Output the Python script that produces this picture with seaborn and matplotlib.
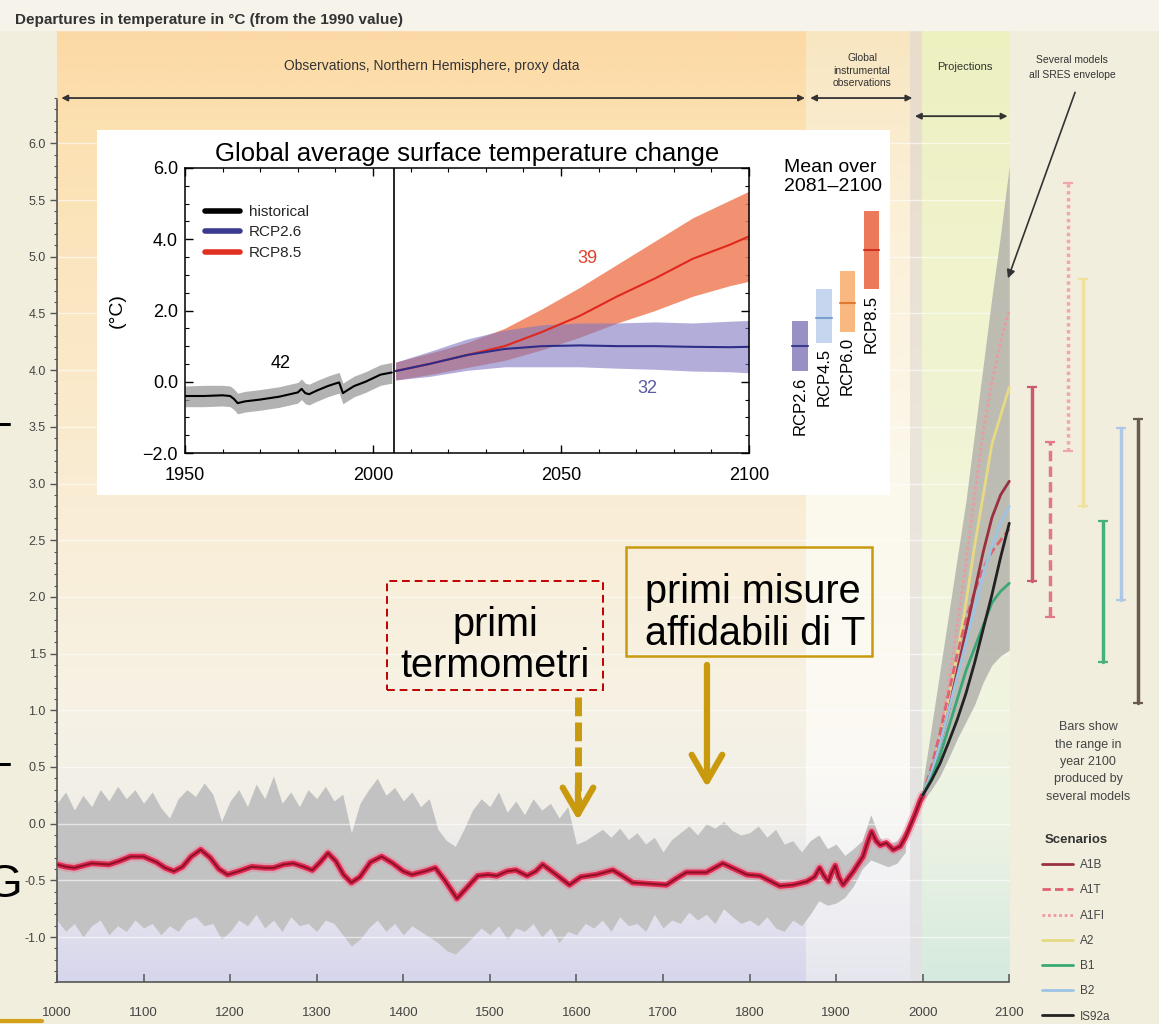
import numpy as np
import pandas as pd
import matplotlib
matplotlib.use("Agg")
import matplotlib.pyplot as plt
import seaborn as sns
from matplotlib.lines import Line2D
from matplotlib.patches import Rectangle
from matplotlib.colors import to_rgb
from matplotlib.ticker import MultipleLocator

# ---------------- DATA ----------------
# Proxy reconstruction (Northern Hemisphere), envelope of proxy data, every 10 years 1000-1980
proxy_years = list(range(1000, 1981, 10))
proxy_hi = [0.18, 0.28, 0.12, 0.25, 0.15, 0.30, 0.20, 0.33, 0.22, 0.30,
            0.18, 0.28, 0.14, 0.05, 0.22, 0.30, 0.24, 0.36, 0.26, 0.02,
            0.20, 0.30, 0.15, 0.35, 0.22, 0.42, 0.18, 0.28, 0.15, 0.30,
            0.22, 0.33, 0.20, 0.26, -0.08, 0.18, 0.30, 0.40, 0.25, 0.32,
            0.20, 0.28, 0.15, 0.22, -0.05, -0.15, -0.20, -0.05, 0.12, 0.22,
            0.15, 0.28, 0.10, 0.20, 0.08, 0.22, 0.12, 0.18, 0.05, 0.15,
            -0.18, -0.15, -0.10, -0.05, -0.12, -0.04, -0.14, -0.08, -0.18, -0.12,
            -0.25, -0.14, -0.08, -0.02, -0.10, 0.00, -0.04, 0.02, -0.06, -0.10,
            -0.08, -0.02, -0.12, -0.05, -0.18, -0.15, -0.25, -0.15, -0.10, -0.22,
            -0.18, -0.28, -0.22, -0.15, 0.08, -0.12, -0.18, -0.15, -0.05]
proxy_lo = [-0.85, -0.95, -0.88, -1.00, -0.90, -0.85, -0.98, -0.90, -0.95, -0.85,
            -0.92, -0.88, -0.98, -0.90, -0.95, -0.85, -0.82, -0.90, -0.88, -1.02,
            -0.95, -0.85, -0.90, -0.80, -0.92, -0.85, -0.95, -0.82, -0.90, -0.88,
            -0.95, -0.85, -0.88, -0.98, -1.08, -1.02, -0.92, -0.85, -0.95, -0.88,
            -0.98, -0.90, -0.95, -1.00, -1.05, -1.12, -1.15, -1.08, -1.00, -0.92,
            -0.98, -0.90, -1.02, -0.92, -0.95, -0.88, -1.00, -0.92, -1.05, -0.95,
            -0.98, -0.88, -0.92, -0.85, -0.95, -0.82, -0.90, -0.88, -0.95, -0.80,
            -0.92, -0.85, -0.88, -0.78, -0.85, -0.80, -0.88, -0.75, -0.82, -0.88,
            -0.85, -0.90, -0.82, -0.92, -0.95, -0.85, -0.90, -0.80, -0.68, -0.72,
            -0.70, -0.65, -0.55, -0.40, -0.32, -0.35, -0.38, -0.35, -0.25]

# Smoothed reconstruction + instrumental record (red curve)
recon_years = [1000, 1010, 1020, 1030, 1040, 1050, 1060, 1072, 1085, 1100, 1115, 1125, 1135, 1145,
               1155, 1166, 1177, 1187, 1197, 1210, 1225, 1240, 1250, 1262, 1273, 1285, 1295, 1304,
               1313, 1322, 1331, 1340, 1350, 1362, 1375, 1388, 1400, 1410, 1425, 1437, 1448, 1462,
               1474, 1486, 1498, 1508, 1520, 1530, 1543, 1553, 1561, 1575, 1592, 1605, 1623, 1642,
               1653, 1665, 1685, 1704, 1716, 1727, 1750, 1769, 1783, 1797, 1812, 1825, 1835, 1850,
               1866, 1875, 1881, 1886, 1891, 1895, 1899, 1903, 1908, 1920, 1931, 1937, 1941, 1946,
               1951, 1958, 1966, 1974, 1980, 1985, 1991, 1997, 2000]
recon_vals = [-0.36, -0.38, -0.39, -0.37, -0.35, -0.355, -0.36, -0.33, -0.29, -0.29, -0.34, -0.39, -0.42, -0.38,
              -0.29, -0.23, -0.30, -0.40, -0.45, -0.42, -0.38, -0.39, -0.39, -0.36, -0.35, -0.38, -0.41, -0.34,
              -0.26, -0.33, -0.45, -0.52, -0.47, -0.34, -0.29, -0.35, -0.42, -0.45, -0.42, -0.39, -0.50, -0.66,
              -0.56, -0.46, -0.45, -0.46, -0.42, -0.41, -0.46, -0.42, -0.36, -0.44, -0.54, -0.47, -0.45, -0.41,
              -0.46, -0.52, -0.53, -0.54, -0.48, -0.43, -0.43, -0.35, -0.40, -0.45, -0.46, -0.51, -0.55, -0.54,
              -0.51, -0.47, -0.39, -0.46, -0.51, -0.43, -0.37, -0.47, -0.54, -0.42, -0.29, -0.15, -0.07, -0.15,
              -0.19, -0.17, -0.23, -0.20, -0.12, -0.03, 0.08, 0.20, 0.25]

# SRES projections 2000-2100
proj_years = [2000, 2010, 2020, 2030, 2040, 2050, 2060, 2070, 2080, 2090, 2100]
env_upper = [0.35, 0.85, 1.35, 1.85, 2.35, 2.85, 3.45, 4.05, 4.65, 5.20, 5.80]
env_lower = [0.20, 0.30, 0.42, 0.58, 0.75, 0.90, 1.05, 1.25, 1.40, 1.48, 1.53]
scen_names = ["A1B", "A1T", "A1FI", "A2", "B1", "B2", "IS92a"]
scen_A1B = [0.25, 0.45, 0.70, 1.00, 1.35, 1.70, 2.05, 2.40, 2.70, 2.90, 3.02]
scen_A1T = [0.25, 0.50, 0.80, 1.15, 1.50, 1.80, 2.05, 2.25, 2.40, 2.50, 2.60]
scen_A1FI = [0.25, 0.45, 0.80, 1.25, 1.75, 2.30, 2.90, 3.45, 3.90, 4.25, 4.53]
scen_A2 = [0.25, 0.45, 0.75, 1.10, 1.50, 1.95, 2.45, 2.90, 3.35, 3.60, 3.85]
scen_B1 = [0.25, 0.40, 0.60, 0.85, 1.10, 1.35, 1.55, 1.75, 1.95, 2.05, 2.12]
scen_B2 = [0.25, 0.45, 0.70, 1.00, 1.30, 1.60, 1.90, 2.20, 2.45, 2.65, 2.80]
scen_IS92a = [0.25, 0.38, 0.53, 0.72, 0.92, 1.15, 1.42, 1.72, 2.02, 2.35, 2.65]
# Range in year 2100 produced by several models (bars)
bar_lo = [2.14, 1.82, 3.29, 2.80, 1.43, 1.97, 1.06]
bar_hi = [3.85, 3.37, 5.65, 4.80, 2.67, 3.49, 3.57]
bar_x = [2126.7, 2147.5, 2167.9, 2185.2, 2208.3, 2228.7, 2248.7]

# Inset: global average surface temperature change
hist_years = [1950, 1955, 1960, 1962, 1963, 1964, 1966, 1970, 1975, 1980, 1981, 1982, 1983,
              1985, 1988, 1990, 1991, 1992, 1993, 1995, 1998, 2000, 2002, 2005]
hist_mean = [-0.40, -0.40, -0.38, -0.40, -0.48, -0.60, -0.55, -0.50, -0.42, -0.30, -0.20, -0.32, -0.35,
             -0.25, -0.12, -0.05, -0.02, -0.32, -0.25, -0.12, 0.00, 0.10, 0.20, 0.26]
hist_hi = [-0.12, -0.10, -0.10, -0.12, -0.20, -0.32, -0.27, -0.22, -0.14, -0.02, 0.08, -0.04, -0.07,
           0.03, 0.16, 0.23, 0.26, -0.04, 0.03, 0.16, 0.28, 0.38, 0.48, 0.54]
hist_lo = [-0.70, -0.70, -0.68, -0.70, -0.78, -0.90, -0.85, -0.80, -0.72, -0.60, -0.50, -0.62, -0.65,
           -0.55, -0.42, -0.35, -0.32, -0.62, -0.55, -0.42, -0.30, -0.20, -0.10, -0.04]
rcp_years = [2006, 2015, 2025, 2035, 2045, 2055, 2065, 2075, 2085, 2095, 2100]
rcp85_mean = [0.30, 0.50, 0.75, 1.00, 1.40, 1.85, 2.40, 2.90, 3.45, 3.85, 4.08]
rcp85_hi = [0.55, 0.80, 1.10, 1.50, 2.05, 2.65, 3.30, 3.95, 4.60, 5.10, 5.35]
rcp85_lo = [0.05, 0.20, 0.40, 0.60, 0.90, 1.25, 1.65, 2.00, 2.40, 2.70, 2.82]
rcp26_mean = [0.30, 0.50, 0.75, 0.92, 1.00, 1.02, 1.00, 1.00, 0.98, 0.97, 0.98]
rcp26_hi = [0.55, 0.85, 1.20, 1.45, 1.60, 1.65, 1.65, 1.68, 1.65, 1.70, 1.72]
rcp26_lo = [0.05, 0.15, 0.32, 0.42, 0.42, 0.42, 0.38, 0.35, 0.30, 0.28, 0.25]
rcp_box_names = ["RCP2.6", "RCP4.5", "RCP6.0", "RCP8.5"]
rcp_box_lo = [0.3, 1.1, 1.4, 2.6]
rcp_box_hi = [1.7, 2.6, 3.1, 4.8]
rcp_box_mean = [1.0, 1.8, 2.2, 3.7]
rcp_box_x = [2113.5, 2119.9, 2126.2, 2132.6]

# ---------------- STYLE ----------------
sns.set_theme(style="ticks")
plt.rcParams["font.family"] = ["Liberation Sans", "DejaVu Sans"]

W, H = 1159, 1024
fig = plt.figure(figsize=(W / 100, H / 100), dpi=100, facecolor="#f2eedd")
fig.patches.append(Rectangle((0, 1 - 30 / H), 1, 30 / H, transform=fig.transFigure,
                             color="#f6f3ea", zorder=0))

PXY = 0.8657  # px per year
ax = fig.add_axes([57 / W, 1 - 982.4 / H, (W - 57) / W, (982.4 - 30) / H])
ax.set_facecolor("none")
XMAX = 1000 + (W - 57) / PXY
YMIN, YMAX = -1.4, 7.0


def band(x0, x1, stops):
    ys = np.linspace(YMAX, YMIN, 300)
    vals = [s[0] for s in stops][::-1]
    cols = np.array([to_rgb(s[1]) for s in stops])[::-1]
    img = np.stack([np.interp(ys, vals, cols[:, k]) for k in range(3)], axis=-1)[:, None, :]
    ax.imshow(img, extent=[x0, x1, YMIN, YMAX], aspect="auto", origin="upper",
              interpolation="bilinear", zorder=0)


band(1000, 1865, [(7.0, "#fcd9a4"), (6.2, "#fce0b0"), (4.5, "#fbe7c4"), (2.5, "#f9eed8"),
                  (1.0, "#f6f2e4"), (0.0, "#f0eee8"), (-0.8, "#e4e2ee"), (-1.4, "#d6d6ec")])
band(1865, 1985, [(7.0, "#f8e6c0"), (5.5, "#fbefd6"), (3.0, "#fcf8ec"), (0.5, "#fbfaf4"),
                  (-0.5, "#f2f2f4"), (-1.4, "#e6e6ef")])
band(1985, 1999, [(7.0, "#e8dccb"), (3.0, "#ebe6dc"), (-1.4, "#e2e2e6")])
band(1999, 2100, [(7.0, "#edf0bf"), (5.0, "#f0f3cc"), (2.0, "#f2f5dc"), (0.0, "#edf3e4"),
                  (-1.4, "#d5eade")])

ax.set_xlim(1000, XMAX)
ax.set_ylim(YMIN, YMAX)

# proxy envelope
ax.fill_between(proxy_years, proxy_lo, proxy_hi, color="#c2c2c2", lw=0, zorder=2)

# white grid lines
for v in np.arange(-1.0, 6.01, 0.5):
    ax.plot([1000, 2100], [v, v], color="white", lw=1.0, alpha=0.6, zorder=2.5)

# SRES envelope
ax.fill_between(proj_years, env_lower, env_upper, color="#b3b3ad", alpha=0.85, lw=0, zorder=3)

# reconstruction red curve
sns.lineplot(x=recon_years, y=recon_vals, ax=ax, color="#f07090", lw=7, alpha=0.35,
             estimator=None, legend=False, zorder=4)
sns.lineplot(x=recon_years, y=recon_vals, ax=ax, color="#e02850", lw=4,
             estimator=None, legend=False, zorder=4)
sns.lineplot(x=recon_years, y=recon_vals, ax=ax, color="#8a1028", lw=1.4,
             estimator=None, legend=False, zorder=4)

# scenarios
scen_vals = [scen_A1B, scen_A1T, scen_A1FI, scen_A2, scen_B1, scen_B2, scen_IS92a]
line_cols = {"A1B": "#9a3040", "A1T": "#e06070", "A1FI": "#eb9aa2", "A2": "#e6da84",
             "B1": "#3aa874", "B2": "#9cc4e4", "IS92a": "#222222"}
dash_map = {"A1B": "", "A1T": (3, 1.5), "A1FI": (1, 1), "A2": "", "B1": "", "B2": "", "IS92a": ""}
df = pd.DataFrame({
    "year": np.tile(proj_years, len(scen_names)),
    "value": np.concatenate(scen_vals),
    "scenario": np.repeat(scen_names, len(proj_years)),
})
plot_order = ["A2", "A1FI", "A1T", "A1B", "B2", "B1", "IS92a"]
df["scenario"] = pd.Categorical(df["scenario"], categories=plot_order, ordered=True)
sns.lineplot(data=df.sort_values(["scenario", "year"]), x="year", y="value", hue="scenario",
             style="scenario", palette=line_cols, dashes=dash_map, lw=2, ax=ax,
             legend=False, zorder=5, sort=False, estimator=None, units="scenario")

# bars in 2100
bar_cols = ["#c85a72", "#e07888", "#f0a6ae", "#f0e29a", "#48b07e", "#b0c8e8", "#6a5a50"]
bar_ls = ["-", (0, (3, 1.5)), (0, (1, 1)), "-", "-", "-", "-"]
for x, lo, hi, c, ls in zip(bar_x, bar_lo, bar_hi, bar_cols, bar_ls):
    ax.plot([x, x], [lo, hi], color=c, lw=2.5, ls=ls, zorder=5, clip_on=False)
    ax.plot([x, x], [lo, hi], ls="none", marker="_", ms=7, mew=1.6, color=c, zorder=5, clip_on=False)

# axes styling
for s in ["top", "right"]:
    ax.spines[s].set_visible(False)
for s in ["left", "bottom"]:
    ax.spines[s].set_color("#555555")
    ax.spines[s].set_linewidth(1.2)
ax.spines["left"].set_bounds(-1.4, 6.38)
ax.spines["bottom"].set_bounds(1000, 2100)
ax.set_xticks(list(range(1000, 2101, 100)))
ax.set_xticklabels([str(v) for v in range(1000, 2101, 100)], fontsize=9.5, color="#444444")
yt = np.arange(-1.0, 6.01, 0.5)
ax.set_yticks(yt)
ax.set_yticklabels([f"{v:.1f}" for v in yt], fontsize=9, color="#444444")
ax.set_yticks(np.arange(-1.4, 6.41, 0.1), minor=True)
ax.tick_params(axis="x", direction="in", length=6, width=1.1, color="#555555", pad=18)
ax.tick_params(axis="y", which="major", direction="out", length=5, width=1.0, color="#555555", pad=3)
ax.tick_params(axis="y", which="minor", direction="out", length=2.5, width=0.8, color="#555555")
ax.set_xlabel("")
ax.set_ylabel("")

# header region
arr = dict(arrowstyle="<|-|>", color="#333333", lw=1.3, mutation_scale=9, shrinkA=0, shrinkB=0)
ax.annotate("", xy=(1005, 6.40), xytext=(1864, 6.40), arrowprops=arr, annotation_clip=False)
ax.annotate("", xy=(1870, 6.40), xytext=(1988, 6.40), arrowprops=arr, annotation_clip=False)
ax.annotate("", xy=(1991, 6.24), xytext=(2098, 6.24), arrowprops=arr, annotation_clip=False)
ax.text(1433, 6.68, "Observations, Northern Hemisphere, proxy data", ha="center", va="center",
        fontsize=10, color="#333333")
ax.text(1930, 6.64, "Global\ninstrumental\nobservations", ha="center", va="center",
        fontsize=7.5, color="#333333", linespacing=1.3)
ax.text(2049, 6.67, "Projections", ha="center", va="center", fontsize=8, color="#333333")
ax.text(2172.5, 6.67, "Several models\nall SRES envelope", ha="center", va="center",
        fontsize=7.5, color="#333333", linespacing=1.6)
ax.annotate("", xy=(2098.5, 4.81), xytext=(2176, 6.45),
            arrowprops=dict(arrowstyle="-|>", color="#333333", lw=1.2, mutation_scale=12,
                            shrinkA=0, shrinkB=0), annotation_clip=False)
fig.text(15 / W, 1 - 20 / H, "Departures in temperature in °C (from the 1990 value)",
         fontsize=11, fontweight="bold", color="#333333", ha="left", va="center")

# right side texts / legend
fig.text(1088 / W, 1 - 762 / H, "Bars show\nthe range in\nyear 2100\nproduced by\nseveral models",
         ha="center", va="center", fontsize=9, color="#444444", linespacing=1.6)
handles = [Line2D([0], [0], color=line_cols[n], lw=2, ls=("-" if dash_map[n] == "" else (0, dash_map[n])))
           for n in scen_names]
leg = ax.legend(handles, scen_names, loc="upper left", bbox_to_anchor=(1042 / W, 1 - 834 / H),
                bbox_transform=fig.transFigure, frameon=False, title="Scenarios", fontsize=8.5,
                title_fontsize=9.5, handlelength=2.6, labelspacing=1.12, handletextpad=0.6,
                borderpad=0, borderaxespad=0)
leg.get_title().set_fontweight("bold")
for t in leg.get_texts():
    t.set_color("#444444")
leg.get_title().set_color("#333333")

# annotations: thermometers and reliable measurements
gold = "#c99a0e"
ax.add_patch(Rectangle((1381.2, 1.18), 1630.7 - 1381.2, 2.14 - 1.18, fill=False, ec="#c00000",
                       lw=1.4, ls=(0, (4, 2.5)), zorder=6))
ax.text(1506, 1.57, "primi\ntermometri", ha="center", va="center", fontsize=28.5,
        color="black", linespacing=1.12, zorder=7)
ax.add_patch(Rectangle((1657.3, 1.48), 1941.4 - 1657.3, 2.44 - 1.48, fill=False, ec=gold,
                       lw=1.8, zorder=6))
ax.text(1679.2, 1.86, "primi misure\naffidabili di T", ha="left", va="center", fontsize=28.5,
        color="black", linespacing=1.12, zorder=7)
ax.plot([1601.8, 1601.8], [1.12, 0.12], color=gold, lw=5, ls=(0, (2.7, 0.9)), zorder=7,
        solid_capstyle="butt")
ax.annotate("", xy=(1601.8, 0.03), xytext=(1601.8, 0.35),
            arrowprops=dict(arrowstyle="->,head_length=0.95,head_width=0.55", color=gold, lw=4.5,
                            mutation_scale=20, shrinkA=0, shrinkB=0), zorder=7)
ax.annotate("", xy=(1750.8, 0.32), xytext=(1750.8, 1.40),
            arrowprops=dict(arrowstyle="->,head_length=0.95,head_width=0.55", color=gold, lw=4.5,
                            mutation_scale=20, shrinkA=0, shrinkB=0), zorder=7)

# cut-off slide fragments at left edge
fig.text(-14 / W, 1 - 885 / H, "G", fontsize=34, ha="left", va="center", color="black")
fig.text(-17 / W, 1 - 783 / H, "T", fontsize=34, ha="left", va="center", color="black")
fig.text(-17 / W, 1 - 443 / H, "T", fontsize=34, ha="left", va="center", color="black")
fig.add_artist(Line2D([0, 42 / W], [1 - 1021 / H, 1 - 1021 / H], transform=fig.transFigure,
                      color="#d4a017", lw=3))

# ---------------- INSET ----------------
bg = fig.add_axes([97 / W, 1 - 495 / H, (890 - 97) / W, (495 - 130) / H])
bg.set_facecolor("white")
bg.set_xticks([])
bg.set_yticks([])
for s in bg.spines.values():
    s.set_visible(False)

iax = fig.add_axes([185 / W, 1 - 453 / H, (749 - 185) / W, (453 - 168) / H])
iax.set_facecolor("white")
iax.fill_between(hist_years, hist_lo, hist_hi, color="#999999", alpha=0.75, lw=0)
iax.fill_between(rcp_years, rcp85_lo, rcp85_hi, color="#f07e58", alpha=0.85, lw=0)
iax.fill_between(rcp_years, rcp26_lo, rcp26_hi, color="#8078c0", alpha=0.6, lw=0)
sns.lineplot(x=hist_years, y=hist_mean, ax=iax, color="black", lw=1.5, estimator=None, legend=False)
sns.lineplot(x=rcp_years, y=rcp85_mean, ax=iax, color="#e0281c", lw=1.5, estimator=None, legend=False)
sns.lineplot(x=rcp_years, y=rcp26_mean, ax=iax, color="#2e2e8a", lw=1.5, estimator=None, legend=False)
iax.axvline(2005.5, color="black", lw=1.2)
iax.set_xlim(1950, 2100)
iax.set_ylim(-2, 6)
iax.set_xticks([1950, 2000, 2050, 2100])
iax.set_xticklabels(["1950", "2000", "2050", "2100"])
iax.xaxis.set_minor_locator(MultipleLocator(10))
iax.set_yticks([-2, 0, 2, 4, 6])
iax.set_yticklabels(["\u22122.0", "0.0", "2.0", "4.0", "6.0"])
iax.yaxis.set_minor_locator(MultipleLocator(0.5))
iax.tick_params(which="both", direction="in", top=True, right=True, labelsize=13, colors="black")
iax.tick_params(which="major", length=6, width=1)
iax.tick_params(which="minor", length=3, width=0.8)
iax.tick_params(axis="x", pad=10)
iax.tick_params(axis="y", pad=5)
for s in iax.spines.values():
    s.set_color("black")
    s.set_linewidth(1.1)
iax.set_xlabel("")
iax.set_ylabel("(°C)", fontsize=14, labelpad=12, color="black")
iax.set_title("Global average surface temperature change", fontsize=18.5, pad=5, color="black")
iax.text(1975.5, 0.5, "42", fontsize=13, ha="center", va="center", color="black")
iax.text(2057, 3.45, "39", fontsize=13, ha="center", va="center", color="#e0402a")
iax.text(2073, -0.2, "32", fontsize=13, ha="center", va="center", color="#5a5aa0")
ih = [Line2D([0], [0], color="black", lw=4), Line2D([0], [0], color="#3b3b8f", lw=4),
      Line2D([0], [0], color="#e03020", lw=4)]
iax.legend(ih, ["historical", "RCP2.6", "RCP8.5"], loc="upper left", bbox_to_anchor=(0.035, 0.87),
           frameon=False, fontsize=11, handlelength=2.3, labelspacing=0.42, handletextpad=0.6,
           borderpad=0, borderaxespad=0)
box_cols = ["#9a90c6", "#c6d6ee", "#f8b880", "#ec7a5a"]
mean_cols = ["#3a3a8c", "#7ba0d0", "#e07a30", "#d03020"]
iax.bar(rcp_box_x, np.array(rcp_box_hi) - np.array(rcp_box_lo), bottom=rcp_box_lo, width=4.2,
        color=box_cols, clip_on=False, lw=0)
for x, m, c, lo, name in zip(rcp_box_x, rcp_box_mean, mean_cols, rcp_box_lo, rcp_box_names):
    iax.plot([x - 2.1, x + 2.1], [m, m], color=c, lw=1.5, clip_on=False)
    iax.text(x, lo - 0.15, name, rotation=90, ha="center", va="top", fontsize=12,
             color="black", clip_on=False)
iax.text(2109.3, 5.76, "Mean over\n2081\u20132100", ha="left", va="center", fontsize=14,
         color="black", linespacing=1.15, clip_on=False)

fig.savefig("out.png", dpi=100, facecolor=fig.get_facecolor())
